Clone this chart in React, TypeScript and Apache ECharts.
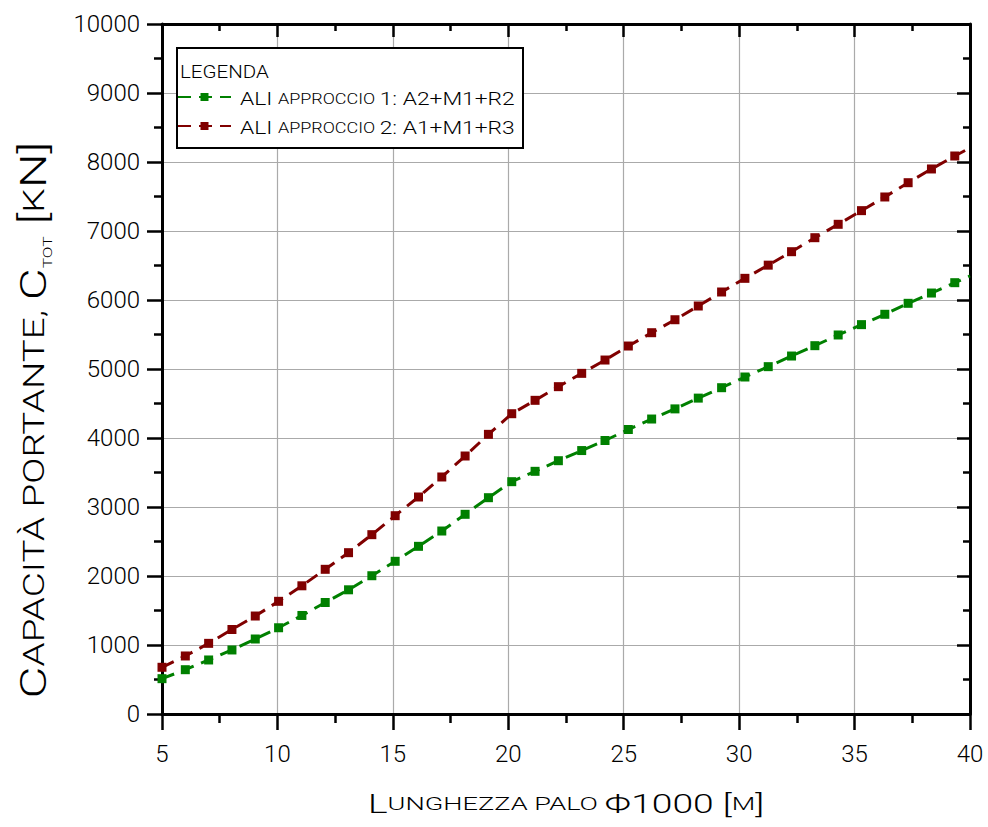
import React, { useEffect, useRef } from "react";
import * as echarts from "echarts";

const pileLengths = [
  5, 6.01, 7.02, 8.03, 9.04, 10.05, 11.06, 12.07, 13.08, 14.09, 15.1, 16.11,
  17.12, 18.13, 19.14, 20.15, 21.16, 22.17, 23.18, 24.19, 25.2, 26.21, 27.22,
  28.23, 29.24, 30.25, 31.26, 32.27, 33.28, 34.29, 35.3, 36.31, 37.32, 38.33,
  39.34,
];
const approach1 = [
  512, 642, 783, 928, 1087, 1250, 1428, 1616, 1800, 2004, 2213, 2430, 2652,
  2894, 3135, 3367, 3517, 3671, 3818, 3964, 4123, 4275, 4422, 4578, 4729, 4884,
  5034, 5188, 5338, 5493, 5643, 5793, 5952, 6101, 6251,
];
const approach2 = [
  677, 841, 1024, 1225, 1420, 1633, 1858, 2097, 2338, 2599, 2874, 3145, 3435,
  3739, 4053, 4352, 4546, 4744, 4937, 5130, 5333, 5526, 5714, 5913, 6116, 6314,
  6505, 6700, 6903, 7097, 7295, 7493, 7700, 7899, 8087,
];
// value where each curve meets the right border (x = 40)
const edgeX = 40;
const approach1Edge = 6348;
const approach2Edge = 8205;

const seriesNames = ["ALI approccio 1: A2+M1+R2", "ALI approccio 2: A1+M1+R3"];
const legendLabels = [
  "{b|ALI }{s|APPROCCIO }{b|1: A2+M1+R2}",
  "{b|ALI }{s|APPROCCIO }{b|2: A1+M1+R3}",
];

const FONT = "Roboto";

export default function App() {
  const ref = useRef<HTMLDivElement>(null);
  useEffect(() => {
    if (!ref.current) return;
    const chart = echarts.init(ref.current, undefined, { renderer: "svg" });
    const mk = (vals: number[], edge: number) => [
      ...vals.map((v, i) => [pileLengths[i], v]),
      { value: [edgeX, edge], symbol: "none" },
    ];
    const dash = [13, 8];
    const axisText = {
      color: "#000",
      fontFamily: FONT,
      fontWeight: 300 as any,
      fontSize: 24,
    };
    const black = (w: number) => ({ color: "#000", width: w });
    const legendBase = {
      show: true,
      orient: "vertical",
      left: 177,
      padding: 0,
      itemWidth: 53,
      itemHeight: 10,
      formatter: () => "",
      textStyle: { fontSize: 10, lineHeight: 10 },
      z: 10,
    };
    const legendRich = {
      b: { fontFamily: FONT, fontWeight: 300, fontSize: 19, fill: "#000", lineHeight: 22 },
      s: { fontFamily: FONT, fontWeight: 300, fontSize: 15, fill: "#000", lineHeight: 22 },
    };
    const option: any = {
      animation: false,
      backgroundColor: "#fff",
      grid: { left: 162, right: 18, top: 24, bottom: 113, containLabel: false },
      xAxis: [
        {
          type: "value",
          min: 5,
          max: 40,
          interval: 5,
          axisLine: { show: true, onZero: false, lineStyle: black(3) },
          axisTick: { show: true, inside: false, length: 16, lineStyle: black(2.5) },
          minorTick: { show: true, splitNumber: 2, length: 9, lineStyle: black(2.5) },
          axisLabel: { ...axisText, margin: 28 },
          splitLine: { show: true, lineStyle: { color: "#aaaaaa", width: 1.2 } },
        },
        {
          type: "value",
          position: "top",
          min: 5,
          max: 40,
          interval: 5,
          axisLine: { show: true, onZero: false, lineStyle: black(3) },
          axisTick: { show: true, inside: true, length: 13, lineStyle: black(2.5) },
          minorTick: { show: true, splitNumber: 2, length: 7, lineStyle: black(2.5) },
          axisLabel: { show: false },
          splitLine: { show: false },
        },
      ],
      yAxis: [
        {
          type: "value",
          min: 0,
          max: 10000,
          interval: 1000,
          axisLine: { show: true, onZero: false, lineStyle: black(3) },
          axisTick: { show: true, inside: false, length: 15, lineStyle: black(2.5) },
          minorTick: { show: true, splitNumber: 2, length: 8, lineStyle: black(2.5) },
          axisLabel: { ...axisText, margin: 22, formatter: (v: number) => String(v) },
          splitLine: { show: true, lineStyle: { color: "#aaaaaa", width: 1.2 } },
        },
        {
          type: "value",
          position: "right",
          min: 0,
          max: 10000,
          interval: 1000,
          axisLine: { show: true, onZero: false, lineStyle: black(3) },
          axisTick: { show: true, inside: true, length: 13, lineStyle: black(2.5) },
          minorTick: { show: true, splitNumber: 2, length: 7, lineStyle: black(2.5) },
          axisLabel: { show: false },
          splitLine: { show: false },
        },
      ],
      legend: [
        { ...legendBase, top: 93, data: [seriesNames[0]] },
        { ...legendBase, top: 122, data: [seriesNames[1]] },
      ],
      graphic: [
        {
          type: "rect",
          left: 176,
          top: 47,
          shape: { width: 346, height: 100 },
          style: { fill: "#fff", stroke: "#000", lineWidth: 2 },
          z: 5,
        },
        {
          type: "text",
          x: 180,
          y: 72,
          scaleX: 1.08,
          style: { text: "LEGENDA", fill: "#000", font: `300 19px ${FONT}`, verticalAlign: "middle" },
          z: 6,
        },
        {
          type: "text",
          x: 240,
          y: 99,
          scaleX: 1.2,
          style: { text: legendLabels[0], verticalAlign: "middle", fill: "#000", rich: legendRich },
          z: 6,
        },
        {
          type: "text",
          x: 240,
          y: 128,
          scaleX: 1.2,
          style: { text: legendLabels[1], verticalAlign: "middle", fill: "#000", rich: legendRich },
          z: 6,
        },
        {
          type: "text",
          x: 34,
          y: 420,
          rotation: Math.PI / 2,
          scaleX: 1.33,
          style: {
            text: "{b|C}{s|APACITÀ PORTANTE, }{b|C}{sub|TOT}{b| [}{s|K}{b|N]}",
            align: "center",
            verticalAlign: "middle",
            fill: "#000",
            rich: {
              b: { fontFamily: FONT, fontWeight: 300, fontSize: 37, fill: "#000", lineHeight: 40 },
              s: { fontFamily: FONT, fontWeight: 300, fontSize: 29, fill: "#000", lineHeight: 40 },
              sub: { fontFamily: FONT, fontWeight: 300, fontSize: 13, fill: "#000", lineHeight: 14, verticalAlign: "bottom" },
            },
          },
        },
        {
          type: "text",
          x: 566,
          y: 804,
          scaleX: 1.43,
          style: {
            text: "{b|L}{s|UNGHEZZA PALO }{b|Φ1000 [}{s|M}{b|]}",
            align: "center",
            verticalAlign: "middle",
            fill: "#000",
            rich: {
              b: { fontFamily: FONT, fontWeight: 300, fontSize: 26, fill: "#000", lineHeight: 30 },
              s: { fontFamily: FONT, fontWeight: 300, fontSize: 19, fill: "#000", lineHeight: 30 },
            },
          },
        },
      ],
      series: [
        {
          name: seriesNames[0],
          type: "line",
          xAxisIndex: 0,
          yAxisIndex: 0,
          data: mk(approach1, approach1Edge),
          symbol: "rect",
          symbolSize: 9,
          showAllSymbol: true,
          itemStyle: { color: "#008000" },
          lineStyle: { color: "#008000", width: 3, type: dash },
          z: 3,
        },
        {
          name: seriesNames[1],
          type: "line",
          xAxisIndex: 0,
          yAxisIndex: 0,
          data: mk(approach2, approach2Edge),
          symbol: "rect",
          symbolSize: 9,
          showAllSymbol: true,
          itemStyle: { color: "#800000" },
          lineStyle: { color: "#800000", width: 3, type: dash },
          z: 3,
        },
      ],
    };
    chart.setOption(option);
    return () => chart.dispose();
  }, []);
  return (
    <div
      ref={ref}
      style={{ position: "absolute", left: 0, top: 0, width: 988, height: 827 }}
    />
  );
}
